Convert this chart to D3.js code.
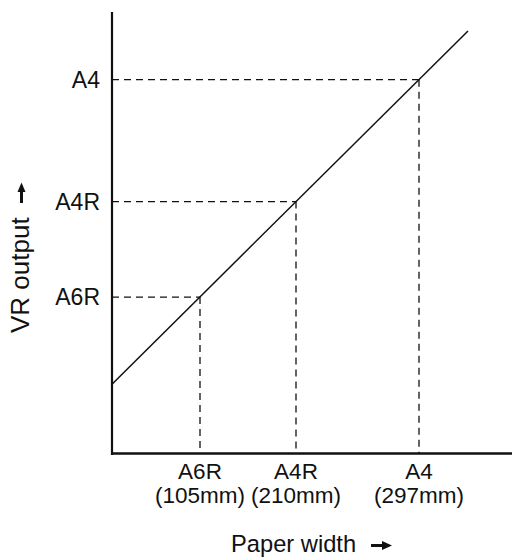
<!DOCTYPE html>
<html>
<head>
<meta charset="utf-8">
<script src="https://cdn.jsdelivr.net/npm/d3@7"></script>
<style>
  html, body { margin: 0; padding: 0; background: #fff; }
  svg { display: block; }
  text { font-family: "Liberation Sans", Arial, sans-serif; fill: #111; }
</style>
</head>
<body>
<svg id="chart" width="512" height="557"></svg>
<script>
// ---- data (schematic units) ----
const sizeNames = ["A6R", "A4R", "A4"];
const widthLabels = ["(105mm)", "(210mm)", "(297mm)"];
const widthPos = [22, 46, 76.75];     // paper width position (schematic)
const outputPos = [35.5, 57.1, 84.7]; // VR output position (schematic)
const lineX = [0, 89];
const lineY = [15.8, 95.7];
const xTitle = "Paper width";
const yTitle = "VR output";

const svg = d3.select("#chart");
const x0 = 112, x1 = 512, y0 = 454, y1 = 12;

const x = d3.scaleLinear().domain([0, 100]).range([x0, x1]);
const y = d3.scaleLinear().domain([0, 100]).range([y0, y1]);

const pts = sizeNames.map((n, i) => ({ name: n, w: widthLabels[i], x: widthPos[i], y: outputPos[i] }));

// dashed guides
svg.append("g").selectAll("line").data(pts).join("line")
  .attr("x1", x(0)).attr("x2", d => x(d.x))
  .attr("y1", d => y(d.y)).attr("y2", d => y(d.y))
  .attr("stroke", "#111").attr("stroke-width", 1.3).attr("stroke-dasharray", "7,5");
svg.append("g").selectAll("line").data(pts).join("line")
  .attr("x1", d => x(d.x)).attr("x2", d => x(d.x))
  .attr("y1", d => y(d.y)).attr("y2", y(0))
  .attr("stroke", "#111").attr("stroke-width", 1.3).attr("stroke-dasharray", "7,5");

// main line
const lineData = lineX.map((v, i) => [v, lineY[i]]);
svg.append("path").datum(lineData)
  .attr("d", d3.line().x(d => x(d[0])).y(d => y(d[1])))
  .attr("fill", "none").attr("stroke", "#111").attr("stroke-width", 1.5);

// axes
svg.append("line").attr("x1", x0).attr("x2", x0).attr("y1", y1).attr("y2", y0 + 1)
  .attr("stroke", "#111").attr("stroke-width", 2.2);
svg.append("line").attr("x1", x0 - 1).attr("x2", x1).attr("y1", y0 - 0.5).attr("y2", y0 - 0.5)
  .attr("stroke", "#111").attr("stroke-width", 2.5);

// y tick labels
svg.append("g").selectAll("text").data(pts).join("text")
  .attr("x", 100).attr("y", d => y(d.y)).attr("dy", "0.35em")
  .attr("text-anchor", "end").attr("font-size", 23).text(d => d.name);

// x tick labels
const xl = svg.append("g").selectAll("g").data(pts).join("g")
  .attr("transform", d => `translate(${x(d.x)},0)`);
xl.append("text").attr("y", 479).attr("text-anchor", "middle").attr("font-size", 22.5).text(d => d.name);
xl.append("text").attr("y", 503).attr("text-anchor", "middle").attr("font-size", 22.5).text(d => d.w);

// x title with arrow
svg.append("text").attr("x", 231).attr("y", 552).attr("font-size", 23.7).text(xTitle);
svg.append("line").attr("x1", 371).attr("x2", 384).attr("y1", 545.5).attr("y2", 545.5)
  .attr("stroke", "#111").attr("stroke-width", 3);
svg.append("path").attr("d", "M382,541 L392,545.5 L382,550 Z").attr("fill", "#111");

// y title with arrow
svg.append("text").attr("transform", "translate(29,333) rotate(-90)")
  .attr("font-size", 26).text(yTitle);
svg.append("line").attr("x1", 21.5).attr("x2", 21.5).attr("y1", 203).attr("y2", 190)
  .attr("stroke", "#111").attr("stroke-width", 3);
svg.append("path").attr("d", "M17.5,192 L21.5,182.5 L25.5,192 Z").attr("fill", "#111");
</script>
</body>
</html>
